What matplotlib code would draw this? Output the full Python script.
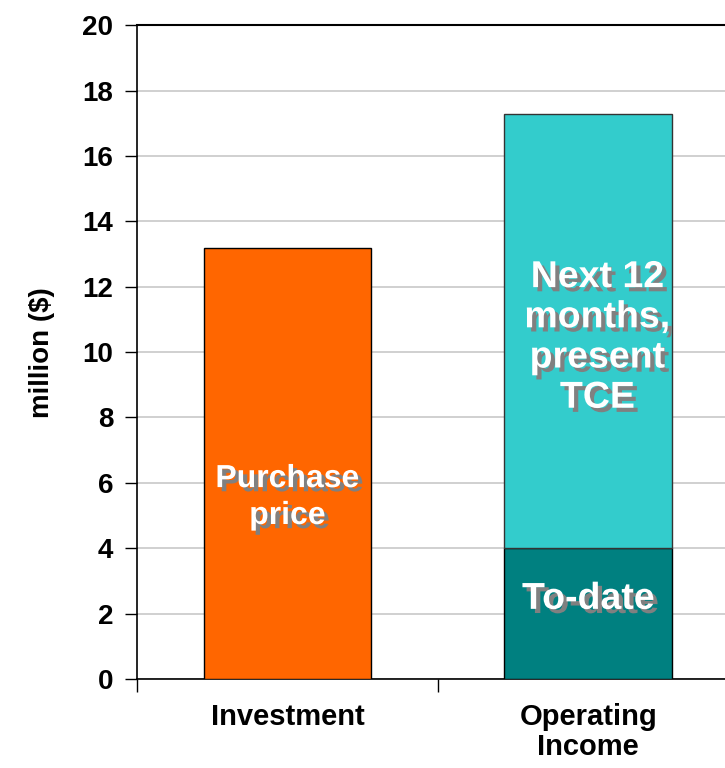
import matplotlib
matplotlib.use("Agg")
import matplotlib.pyplot as plt
import matplotlib.patheffects as pe

plt.rcParams['font.family'] = ['Liberation Sans', 'DejaVu Sans']
plt.rcParams['font.weight'] = 'bold'

# values in million $
categories = ["Investment", "Operating\nIncome"]
purchase_price = 13.18
to_date = 4.0
next_12_months = 13.3

fig = plt.figure(figsize=(7.25, 7.68), dpi=100)
ax = fig.add_axes([0.189, 0.116, 0.83, 0.851])

x = [0.5, 1.5]
w = 0.558
ax.bar(x[0], purchase_price, w, color="#FF6600", edgecolor="black", linewidth=1, zorder=3)
ax.bar(x[1], to_date, w, color="#008080", edgecolor="black", linewidth=1, zorder=3)
ax.bar(x[1], next_12_months, w, bottom=to_date, color="#33CCCC", edgecolor="#333333", linewidth=1, zorder=3)

shadow = [pe.SimplePatchShadow(offset=(3, -3), shadow_rgbFace="#808080", alpha=1), pe.Normal()]
ax.text(x[0], 5.55, "Purchase\nprice", ha="center", va="center", color="white",
        fontsize=23, fontweight="bold", linespacing=1.3, path_effects=shadow, zorder=4)
ax.text(x[1] + 0.03, 10.45, "Next 12\nmonths,\npresent\nTCE", ha="center", va="center", color="white",
        fontsize=27, fontweight="bold", linespacing=1.15, path_effects=shadow, zorder=4)
ax.text(x[1], 2.45, "To-date", ha="center", va="center", color="white",
        fontsize=27, fontweight="bold", path_effects=shadow, zorder=4)

ax.set_xlim(0, 2)
ax.set_ylim(0, 20)
ax.set_yticks(range(0, 21, 2))
ax.yaxis.grid(True, color="#C8C8C8", linewidth=1.2, zorder=0)
ax.set_xticks([0, 1, 2])
ax.set_xticklabels([])
ax.set_xticks(x, minor=True)
ax.set_xticklabels(categories, minor=True, fontsize=21, fontweight="bold", linespacing=1.1)
ax.tick_params(axis="x", which="minor", length=0, pad=17)
ax.tick_params(axis="x", which="major", length=9, width=1, direction="out")
ax.tick_params(axis="y", length=9, width=1, labelsize=20, pad=8)
ax.spines["right"].set_visible(False)
ax.spines["top"].set_linewidth(1.5)
ax.spines["left"].set_linewidth(1.2)
ax.spines["bottom"].set_linewidth(1.2)
ax.set_ylabel("million ($)", fontsize=20, fontweight="bold", labelpad=20)

fig.savefig("out.png", dpi=100)
